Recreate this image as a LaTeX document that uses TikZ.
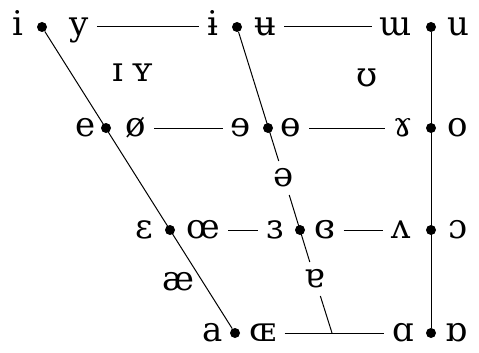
\documentclass[tikz,border=0pt]{standalone}
\usepackage{fontspec}
\newfontfamily\ipafont{DejaVu Serif}
\tikzset{
vwsym/.style={font=\ipafont\fontsize{34}{34}\selectfont,inner sep=8pt,text height=17.6pt,text depth=0pt},
vwdot/.style={circle,fill=black,inner sep=0pt,minimum size=10pt},
vwline/.style={line width=1pt}
}
\begin{document}
\begin{tikzpicture}[x=1pt,y=-1pt]
\useasboundingbox (0,0) rectangle (479,353);
\node[vwdot] (dFront1) at (42,27) {};
\node[vwdot] (dFront2) at (106,128) {};
\node[vwdot] (dFront3) at (170,230) {};
\node[vwdot] (dFront4) at (235,333) {};
\node[vwdot] (dCentral1) at (237,27) {};
\node[vwdot] (dCentral2) at (268,128) {};
\node[vwdot] (dCentral3) at (300,230) {};
\coordinate (cCentral4) at (332,333);
\node[vwdot] (dBack1) at (431,27) {};
\node[vwdot] (dBack2) at (431,128) {};
\node[vwdot] (dBack3) at (431,230) {};
\node[vwdot] (dBack4) at (431,333) {};
\node[vwsym] (nI) at (18,27) {i};
\node[vwsym] (nY) at (79,27) {y};
\node[vwsym] (nIbar) at (213,27) {ɨ};
\node[vwsym] (nUbar) at (265,27) {ʉ};
\node[vwsym] (nUunround) at (396,27) {ɯ};
\node[vwsym] (nU) at (458,27) {u};
\node[vwsym] (nIsmall) at (118,73) {ɪ};
\node[vwsym] (nYsmall) at (143,73) {ʏ};
\node[vwsym] (nUpsilon) at (367,78) {ʊ};
\node[vwsym] (nE) at (86,128) {e};
\node[vwsym] (nOslash) at (136,128) {ø};
\node[vwsym] (nErev) at (241,128) {ɘ};
\node[vwsym] (nObar) at (291,128) {ɵ};
\node[vwsym] (nRamshorn) at (403,128) {ɤ};
\node[vwsym] (nO) at (458,128) {o};
\node[vwsym] (nSchwa) at (284,178) {ə};
\node[vwsym] (nEps) at (144,230) {ɛ};
\node[vwsym] (nOE) at (203,230) {œ};
\node[vwsym] (nEpsrev) at (275,230) {ɜ};
\node[vwsym] (nEpsclosed) at (325,230) {ɞ};
\node[vwsym] (nWedge) at (401,230) {ʌ};
\node[vwsym] (nOopen) at (458,230) {ɔ};
\node[vwsym] (nAsh) at (178,282) {æ};
\node[vwsym] (nAturned) at (315,279) {ɐ};
\node[vwsym] (nA) at (213,333) {a};
\node[vwsym] (nOEsmall) at (263,333) {ɶ};
\node[vwsym] (nAlpha) at (403,333) {ɑ};
\node[vwsym] (nAlphaturned) at (456,333) {ɒ};
\draw[vwline] (dFront1) -- (dFront4);
\draw[vwline] (dCentral1) -- (nSchwa);
\draw[vwline] (nSchwa) -- (nAturned);
\draw[vwline] (nAturned) -- (cCentral4);
\draw[vwline] (dBack1) -- (dBack4);
\draw[vwline] (nY) -- (nIbar);
\draw[vwline] (nUbar) -- (nUunround);
\draw[vwline] (nOslash) -- (nErev);
\draw[vwline] (nObar) -- (nRamshorn);
\draw[vwline] (nOE) -- (nEpsrev);
\draw[vwline] (nEpsclosed) -- (nWedge);
\draw[vwline] (nOEsmall) -- (nAlpha);
\end{tikzpicture}
\end{document}
